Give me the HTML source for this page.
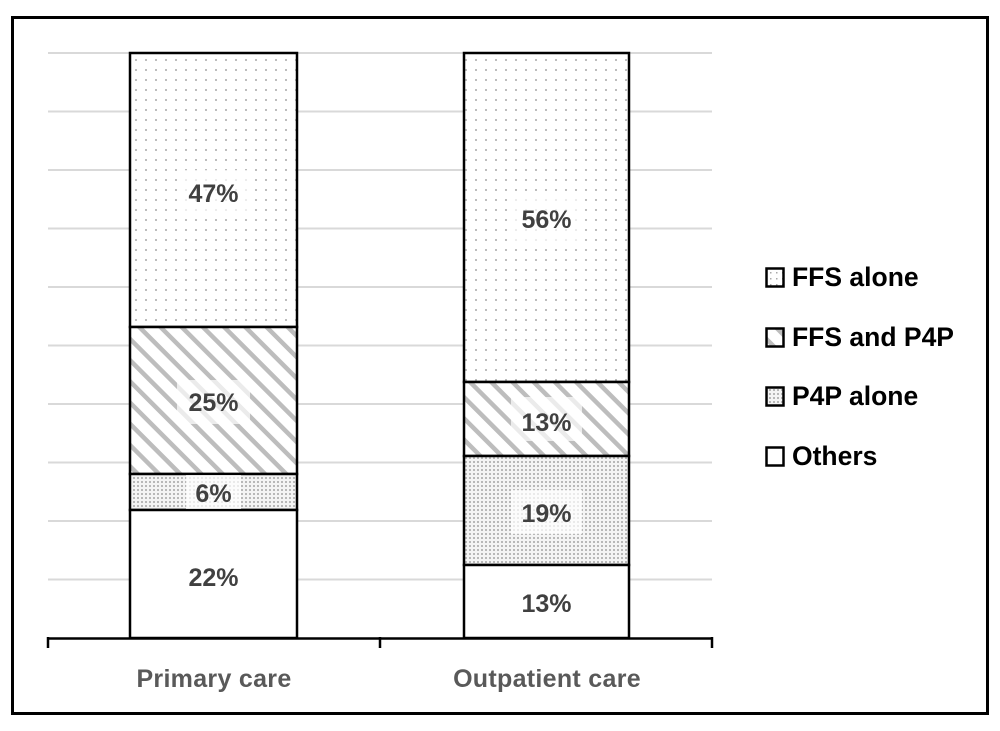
<!DOCTYPE html>
<html>
<head>
<meta charset="utf-8">
<style>
html,body{margin:0;padding:0;background:#fff;}
svg{display:block;}
</style>
</head>
<body>
<svg width="1000" height="731" viewBox="0 0 1000 731" xmlns="http://www.w3.org/2000/svg">
<defs>
  <pattern id="dots" x="133" y="57" width="10" height="10" patternUnits="userSpaceOnUse">
    <rect width="10" height="10" fill="#fff"/>
    <rect x="2" y="2" width="2" height="2" fill="#bdbdbd"/>
  </pattern>
  <pattern id="dense" x="0" y="0" width="4" height="4" patternUnits="userSpaceOnUse">
    <rect width="4" height="4" fill="#f4f4f4"/>
    <rect x="1" y="1" width="2" height="2" fill="#b8b8b8"/>
  </pattern>
  <pattern id="hatch" x="0" y="0" width="15" height="15" patternUnits="userSpaceOnUse" patternTransform="rotate(-45)">
    <rect width="15" height="15" fill="#fff"/>
    <rect x="0" y="0" width="4.5" height="15" fill="#bdbdbd"/>
  </pattern>
  <pattern id="ldots" x="0" y="0" width="6" height="6" patternUnits="userSpaceOnUse">
    <rect width="6" height="6" fill="#fff"/>
    <rect x="2" y="2" width="1.5" height="1.5" fill="#aaa"/>
  </pattern>
</defs>

<rect x="0" y="0" width="1000" height="731" fill="#fff"/>
<!-- outer frame -->
<rect x="12.5" y="17.5" width="975" height="696" fill="none" stroke="#000" stroke-width="3"/>

<!-- gridlines -->
<g stroke="#d9d9d9" stroke-width="2">
  <line x1="48" y1="53" x2="712" y2="53"/>
  <line x1="48" y1="111.5" x2="712" y2="111.5"/>
  <line x1="48" y1="170" x2="712" y2="170"/>
  <line x1="48" y1="228.5" x2="712" y2="228.5"/>
  <line x1="48" y1="287" x2="712" y2="287"/>
  <line x1="48" y1="345.5" x2="712" y2="345.5"/>
  <line x1="48" y1="404" x2="712" y2="404"/>
  <line x1="48" y1="462.5" x2="712" y2="462.5"/>
  <line x1="48" y1="521" x2="712" y2="521"/>
  <line x1="48" y1="579.5" x2="712" y2="579.5"/>
</g>

<!-- Primary care bar -->
<g stroke="#000" stroke-width="2.5">
  <rect x="130" y="53" width="167" height="274" fill="url(#dots)"/>
  <rect x="130" y="327" width="167" height="147" fill="url(#hatch)"/>
  <rect x="130" y="474" width="167" height="36" fill="url(#dense)"/>
  <rect x="130" y="510" width="167" height="128" fill="#fff"/>
</g>
<!-- Outpatient care bar -->
<g stroke="#000" stroke-width="2.5">
  <rect x="464" y="53" width="165" height="329" fill="url(#dots)"/>
  <rect x="464" y="382" width="165" height="74" fill="url(#hatch)"/>
  <rect x="464" y="456" width="165" height="109" fill="url(#dense)"/>
  <rect x="464" y="565" width="165" height="73" fill="#fff"/>
</g>

<!-- label backgrounds -->
<g fill="#fff" fill-opacity="0.7">
  <rect x="178" y="170" width="72" height="44"/>
  <rect x="177" y="380" width="73" height="44"/>
  <rect x="186" y="475" width="55" height="34"/>
  <rect x="511" y="197" width="71" height="44"/>
  <rect x="511" y="397" width="71" height="44"/>
  <rect x="511" y="490" width="71" height="44"/>
</g>

<!-- data labels -->
<g font-family="Liberation Sans, Arial, sans-serif" font-size="25" font-weight="bold" fill="#404040" text-anchor="middle">
  <text x="213.5" y="202">47%</text>
  <text x="213.5" y="411">25%</text>
  <text x="213.5" y="502">6%</text>
  <text x="213.5" y="586">22%</text>
  <text x="546.5" y="228">56%</text>
  <text x="546.5" y="431">13%</text>
  <text x="546.5" y="522">19%</text>
  <text x="546.5" y="612">13%</text>
</g>

<!-- axis -->
<g stroke="#000" stroke-width="2.5" fill="none">
  <line x1="47" y1="638.5" x2="713" y2="638.5"/>
  <line x1="48" y1="637" x2="48" y2="648"/>
  <line x1="380" y1="637" x2="380" y2="648"/>
  <line x1="712" y1="637" x2="712" y2="648"/>
</g>

<!-- category labels -->
<g font-family="Liberation Sans, Arial, sans-serif" font-size="25" font-weight="bold" fill="#595959" text-anchor="middle">
  <text x="214" y="687" letter-spacing="0.3">Primary care</text>
  <text x="547" y="687" letter-spacing="0.3">Outpatient care</text>
</g>

<!-- legend -->
<g stroke="#000" stroke-width="2.5">
  <rect x="766.5" y="268.5" width="17" height="18" fill="url(#ldots)"/>
  <rect x="766.5" y="328.5" width="17" height="18" fill="url(#hatch)"/>
  <rect x="766.5" y="387.5" width="17" height="18" fill="url(#dense)"/>
  <rect x="766.5" y="447.5" width="17" height="18" fill="#fff"/>
</g>
<g font-family="Liberation Sans, Arial, sans-serif" font-size="26.5" font-weight="bold" fill="#000">
  <text x="792" y="286">FFS alone</text>
  <text x="792" y="346">FFS and P4P</text>
  <text x="792" y="405">P4P alone</text>
  <text x="792" y="465">Others</text>
</g>
</svg>
</body>
</html>
